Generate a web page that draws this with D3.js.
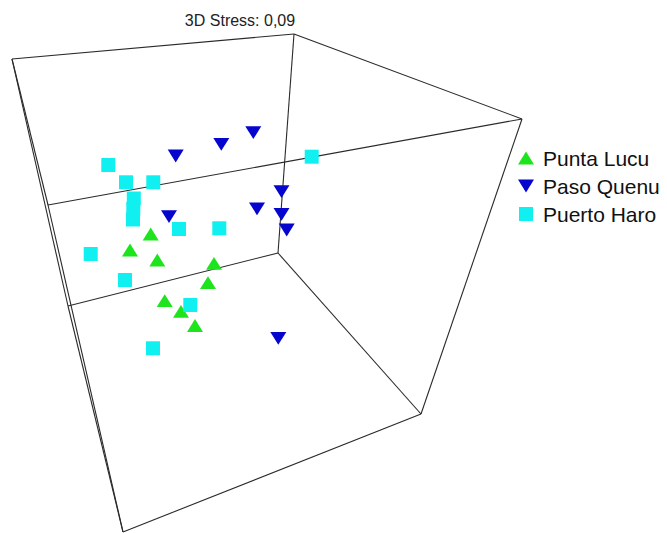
<!DOCTYPE html>
<html>
<head>
<meta charset="utf-8">
<script src="https://cdn.jsdelivr.net/npm/d3@7"></script>
<style>
  html, body { margin: 0; padding: 0; background: #ffffff; }
  svg { display: block; }
</style>
</head>
<body>
<svg id="chart" width="667" height="533"></svg>
<script>
// ---- data: projected 3D MDS ordination (view units) ----
const title = "3D Stress: 0,09";
const groups = ["Punta Lucu", "Paso Quenu", "Puerto Haro"];

const puntaLucuX = [-1.163, -1.370, -1.097, -0.530, -0.590, -1.023, -0.860, -0.720];
const puntaLucuY = [ 0.495,  0.335,  0.235,  0.202,  0.008, -0.172, -0.278, -0.420];

const pasoQuenuX = [-0.137, -0.457, -0.913, 0.145, -0.100, 0.145, 0.197, -0.980,  0.113];
const pasoQuenuY = [ 1.508,  1.392,  1.275, 0.918,  0.747, 0.692, 0.535,  0.668, -0.548];

const puertoHaroX = [-1.587, -1.410, -1.137, 0.447, -1.332, -1.337, -1.340, -0.880, -0.477, -1.763, -1.420, -0.767, -1.140];
const puertoHaroY = [ 1.185,  1.012,  1.012, 1.268,  0.850,  0.745,  0.640,  0.545,  0.552,  0.295,  0.035, -0.215, -0.648];

// bounding cube of the configuration, projected corners and its 12 edges
const cubeX = [-2.550, 0.270, 2.550,  1.540, -1.440, -1.990, 0.110, -2.190];
const cubeY = [ 2.245, 2.495, 1.645, -1.305, -2.485, -0.225, 0.305,  0.785];
const cubeEdges = [[0,1],[1,2],[2,3],[3,4],[4,5],[5,0],[6,1],[6,3],[6,5],[7,0],[7,2],[7,4]];

// ---- layout ----
const svg = d3.select("#chart");
const x = d3.scaleLinear().domain([-2.55, 2.55]).range([12, 522]);
const y = d3.scaleLinear().domain([2.495, -2.495]).range([34, 533]);

// marker shapes
const triUp = { draw(ctx, size) { const w = Math.sqrt(size) / 2, h = w * 0.8;
  ctx.moveTo(0, -h); ctx.lineTo(w, h); ctx.lineTo(-w, h); ctx.closePath(); } };
const triDown = { draw(ctx, size) { const w = Math.sqrt(size) / 2, h = w * 0.8;
  ctx.moveTo(0, h); ctx.lineTo(w, -h); ctx.lineTo(-w, -h); ctx.closePath(); } };
const square = { draw(ctx, size) { const s = Math.sqrt(size) / 2;
  ctx.rect(-s, -s, 2 * s, 2 * s); } };

const styles = [
  { name: groups[0], xs: puntaLucuX, ys: puntaLucuY, type: triUp,   size: 256, color: "#1ee41e" },
  { name: groups[1], xs: pasoQuenuX, ys: pasoQuenuY, type: triDown, size: 256, color: "#0505cd" },
  { name: groups[2], xs: puertoHaroX, ys: puertoHaroY, type: square, size: 196, color: "#10f0f0" }
];

// cube wireframe
const corners = cubeX.map((v, i) => [x(v), y(cubeY[i])]);
svg.append("g").attr("class", "cube")
  .selectAll("line").data(cubeEdges).join("line")
  .attr("x1", d => corners[d[0]][0]).attr("y1", d => corners[d[0]][1])
  .attr("x2", d => corners[d[1]][0]).attr("y2", d => corners[d[1]][1])
  .attr("stroke", "#2a2a2a").attr("stroke-width", 1.1);

// samples
styles.forEach(s => {
  const pts = s.xs.map((v, i) => ({ x: v, y: s.ys[i] }));
  svg.append("g").attr("class", "group")
    .selectAll("path").data(pts).join("path")
    .attr("transform", d => `translate(${x(d.x)},${y(d.y)})`)
    .attr("d", d3.symbol().type(s.type).size(s.size))
    .attr("fill", s.color);
});

// title
svg.append("text")
  .attr("x", 240).attr("y", 26)
  .attr("text-anchor", "middle")
  .attr("font-family", "Liberation Sans, Arial, sans-serif")
  .attr("font-size", 16)
  .attr("fill", "#222")
  .text(title);

// legend
const legend = svg.append("g").attr("transform", "translate(526,158)");
const rows = legend.selectAll("g").data(styles).join("g")
  .attr("transform", (d, i) => `translate(0,${i * 28})`);
rows.append("path")
  .attr("d", d => d3.symbol().type(d.type).size(d.size)())
  .attr("fill", d => d.color);
rows.append("text")
  .attr("x", 17).attr("y", 8)
  .attr("font-family", "Liberation Sans, Arial, sans-serif")
  .attr("font-size", 21)
  .attr("fill", "#111")
  .text(d => d.name);
</script>
</body>
</html>
